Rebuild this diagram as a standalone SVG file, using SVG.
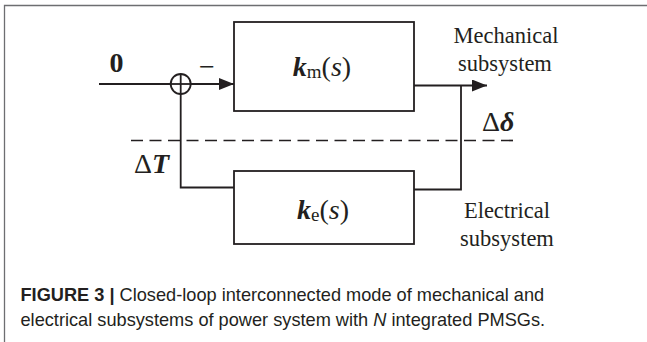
<svg xmlns="http://www.w3.org/2000/svg" width="647" height="342" viewBox="0 0 647 342">
<style>
.ln{fill:none;stroke:#231f20;stroke-width:1.8}
.box{fill:#fff;stroke:#231f20;stroke-width:1.8}
.dash{fill:none;stroke:#231f20;stroke-width:1.7;stroke-dasharray:12 6.5}
.tx{font-family:"Liberation Serif","Times New Roman",serif;fill:#231f20}
.cap{font-family:"Liberation Sans",Arial,sans-serif;fill:#231f20;font-size:18.2px}
</style>
<defs>
<marker id="ah" markerUnits="userSpaceOnUse" markerWidth="16" markerHeight="14" refX="15" refY="6" orient="auto">
<path d="M0,0 L15,6 L0,12 Z" fill="#231f20"/>
</marker>
</defs>
<rect x="0" y="0" width="647" height="342" fill="#fff"/>
<path d="M4.5,342 V5.5 H647" fill="none" stroke="#6d6e71" stroke-width="1.3"/>

<g id="connectors">
<line class="dash" x1="131" y1="140.5" x2="514" y2="140.5"/>
<line class="ln" x1="99" y1="84" x2="170.7" y2="84"/>
<line class="ln" x1="190.7" y1="84" x2="234" y2="84" marker-end="url(#ah)"/>
<line class="ln" x1="414" y1="85.5" x2="487" y2="85.5" marker-end="url(#ah)"/>
<polyline class="ln" points="461,85.5 461,189.5 414,189.5"/>
<polyline class="ln" points="234,187.5 180.7,187.5 180.7,94"/>
</g>

<g id="sum">
<circle class="ln" cx="180.7" cy="84" r="10"/>
<line class="ln" x1="170.7" y1="84" x2="190.7" y2="84"/>
<line class="ln" x1="180.7" y1="74" x2="180.7" y2="94"/>
</g>

<g id="km">
<rect class="box" x="234" y="22" width="180" height="89"/>
<text class="tx" x="322" y="76" font-size="28" text-anchor="middle"><tspan font-weight="bold" font-style="italic">k</tspan><tspan font-size="19" dy="2">m</tspan><tspan dy="-2">(</tspan><tspan font-style="italic">s</tspan>)</text>
</g>

<g id="ke">
<rect class="box" x="234" y="171" width="180" height="73"/>
<text class="tx" x="323" y="219" font-size="28" text-anchor="middle"><tspan font-weight="bold" font-style="italic">k</tspan><tspan font-size="19" dy="2">e</tspan><tspan dy="-2">(</tspan><tspan font-style="italic">s</tspan>)</text>
</g>

<g id="labels">
<text class="tx" x="116.5" y="72" font-size="28" font-weight="bold" text-anchor="middle">0</text>
<text class="tx" x="207" y="76" font-size="28" text-anchor="middle">−</text>
<text class="tx" x="134" y="173" font-size="28">Δ<tspan font-weight="bold" font-style="italic">T</tspan></text>
<text class="tx" x="482" y="131" font-size="28">Δ<tspan font-weight="bold" font-style="italic">δ</tspan></text>
<text class="tx" x="506" y="43" font-size="22.5" text-anchor="middle">Mechanical</text>
<text class="tx" x="505" y="71" font-size="22.5" text-anchor="middle">subsystem</text>
<text class="tx" x="507" y="218" font-size="22.5" text-anchor="middle">Electrical</text>
<text class="tx" x="507" y="246" font-size="22.5" text-anchor="middle">subsystem</text>
</g>

<g id="caption">
<text class="cap" x="20.5" y="301"><tspan font-weight="bold">FIGURE 3 | </tspan>Closed-loop interconnected mode of mechanical and</text>
<text class="cap" x="20.5" y="326">electrical subsystems of power system with <tspan font-style="italic">N</tspan> integrated PMSGs.</text>
</g>
</svg>
